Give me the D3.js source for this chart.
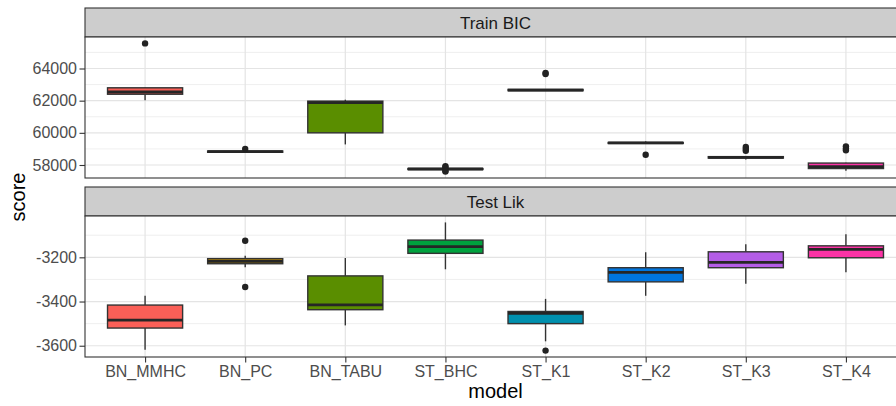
<!DOCTYPE html>
<html>
<head>
<meta charset="utf-8">
<script src="https://cdn.jsdelivr.net/npm/d3@7"></script>
<style>
  html, body { margin: 0; padding: 0; background: #fff; }
  svg { display: block; font-family: "Liberation Sans", Arial, Helvetica, sans-serif; }
</style>
</head>
<body>
<svg id="chart" width="896" height="406"></svg>
<script>
// Models on the x axis
const models = ["BN_MMHC", "BN_PC", "BN_TABU", "ST_BHC", "ST_K1", "ST_K2", "ST_K3", "ST_K4"];
const fills = ["#FA5F57", "#B88700", "#5A8E00", "#00A23E", "#0090AE", "#0075DE", "#B45DE6", "#FC33A6"];

// Facet titles
const facets = ["Train BIC", "Test Lik"];

// Box statistics per model: [lower whisker, Q1, median, Q3, upper whisker]
const trainBicStats = [
  [62020, 62400, 62540, 62800, 62820],
  [58760, 58790, 58830, 58870, 58900],
  [59280, 60000, 61880, 61970, 62060],
  [57700, 57720, 57750, 57780, 57800],
  [62600, 62620, 62660, 62700, 62720],
  [59330, 59340, 59370, 59400, 59470],
  [58340, 58430, 58470, 58520, 58560],
  [57650, 57780, 57900, 58120, 58140]
];
const trainBicOutliers = [
  [65560],
  [59000],
  [],
  [57920, 57860, 57640, 57590],
  [63720, 63660],
  [58640],
  [59120, 58990, 58880],
  [59160, 59020, 58920]
];
const testLikStats = [
  [-3618, -3520, -3484, -3416, -3374],
  [-3245, -3229, -3218, -3206, -3193],
  [-3508, -3437, -3415, -3284, -3203],
  [-3254, -3182, -3152, -3122, -3042],
  [-3580, -3500, -3453, -3445, -3388],
  [-3374, -3311, -3268, -3247, -3177],
  [-3320, -3247, -3223, -3175, -3141],
  [-3268, -3202, -3164, -3148, -3096]
];
const testLikOutliers = [
  [], [-3125, -3334], [], [], [-3622], [], [], []
];

// Tick values per facet
const trainBicTicks = [58000, 60000, 62000, 64000];
const testLikTicks = [-3600, -3400, -3200];

const svg = d3.select("#chart");

// Layout
const panelLeft = 85, panelRight = 906;
const stripH = 29;
const panels = [
  { title: facets[0], stats: trainBicStats, outliers: trainBicOutliers, ticks: trainBicTicks, top: 37, bottom: 178 },
  { title: facets[1], stats: testLikStats, outliers: testLikOutliers, ticks: testLikTicks, top: 216, bottom: 357 }
];

const x = d3.scalePoint().domain(models).range([panelLeft, panelRight]).padding(0.6);
const boxW = x.step() * 0.75;

panels.forEach(p => {
  const all = [];
  p.stats.forEach(s => all.push(s[0], s[4]));
  p.outliers.forEach(o => all.push(...o));
  const [lo, hi] = d3.extent(all);
  const pad = (hi - lo) * 0.05;
  const y = d3.scaleLinear().domain([lo - pad, hi + pad]).range([p.bottom, p.top]);

  const g = svg.append("g");

  // clip for panel content
  const clipId = "clip" + p.top;
  svg.append("clipPath").attr("id", clipId)
    .append("rect").attr("x", panelLeft).attr("y", p.top)
    .attr("width", panelRight - panelLeft).attr("height", p.bottom - p.top);

  // strip
  g.append("rect")
    .attr("x", panelLeft).attr("y", p.top - stripH)
    .attr("width", panelRight - panelLeft).attr("height", stripH)
    .attr("fill", "#CDCDCD").attr("stroke", "#333").attr("stroke-width", 1.1);
  g.append("text")
    .attr("x", (panelLeft + 896 + 10) / 2).attr("y", p.top - stripH / 2)
    .attr("dy", "0.36em").attr("text-anchor", "middle")
    .attr("font-size", 17).attr("fill", "#1A1A1A")
    .text(p.title);

  // panel background
  g.append("rect")
    .attr("x", panelLeft).attr("y", p.top)
    .attr("width", panelRight - panelLeft).attr("height", p.bottom - p.top)
    .attr("fill", "#fff");

  const grid = g.append("g").attr("clip-path", `url(#${clipId})`);
  // minor gridlines halfway between major ticks
  const step = p.ticks[1] - p.ticks[0];
  const minor = d3.range(p.ticks[0] - step * 3 - step / 2, p.ticks[p.ticks.length - 1] + step * 3, step)
    .filter(v => v >= y.domain()[0] && v <= y.domain()[1]);
  grid.selectAll(".minor").data(minor).join("line")
    .attr("x1", panelLeft).attr("x2", panelRight)
    .attr("y1", d => y(d)).attr("y2", d => y(d))
    .attr("stroke", "#EDEDED").attr("stroke-width", 0.9);
  grid.selectAll(".major").data(p.ticks).join("line")
    .attr("x1", panelLeft).attr("x2", panelRight)
    .attr("y1", d => y(d)).attr("y2", d => y(d))
    .attr("stroke", "#E4E4E4").attr("stroke-width", 1.2);
  grid.selectAll(".vmajor").data(models).join("line")
    .attr("x1", d => x(d)).attr("x2", d => x(d))
    .attr("y1", p.top).attr("y2", p.bottom)
    .attr("stroke", "#E4E4E4").attr("stroke-width", 1.2);

  // boxplots
  const boxes = g.append("g").attr("clip-path", `url(#${clipId})`);
  models.forEach((m, i) => {
    const s = p.stats[i];
    const cx = x(m);
    const bg = boxes.append("g");
    bg.append("line").attr("x1", cx).attr("x2", cx)
      .attr("y1", y(s[4])).attr("y2", y(s[3]))
      .attr("stroke", "#333").attr("stroke-width", 1.4);
    bg.append("line").attr("x1", cx).attr("x2", cx)
      .attr("y1", y(s[1])).attr("y2", y(s[0]))
      .attr("stroke", "#333").attr("stroke-width", 1.4);
    bg.append("rect")
      .attr("x", cx - boxW / 2).attr("width", boxW)
      .attr("y", y(s[3])).attr("height", Math.max(0, y(s[1]) - y(s[3])))
      .attr("fill", fills[i]).attr("stroke", "#333").attr("stroke-width", 1.4);
    bg.append("line")
      .attr("x1", cx - boxW / 2).attr("x2", cx + boxW / 2)
      .attr("y1", y(s[2])).attr("y2", y(s[2]))
      .attr("stroke", "#262626").attr("stroke-width", 2.8);
    bg.selectAll("circle").data(p.outliers[i]).join("circle")
      .attr("cx", cx).attr("cy", d => y(d)).attr("r", 3.2)
      .attr("fill", "#222");
  });

  // panel border
  g.append("rect")
    .attr("x", panelLeft).attr("y", p.top)
    .attr("width", panelRight - panelLeft).attr("height", p.bottom - p.top)
    .attr("fill", "none").attr("stroke", "#333").attr("stroke-width", 1.1);

  // y axis
  const ya = g.append("g").attr("transform", `translate(${panelLeft},0)`)
    .call(d3.axisLeft(y).tickValues(p.ticks).tickFormat(d => String(d)).tickSize(5.5).tickPadding(2.5));
  ya.select(".domain").remove();
  ya.selectAll(".tick line").attr("stroke", "#333").attr("stroke-width", 1.1);
  ya.selectAll(".tick text").attr("fill", "#4D4D4D").attr("font-size", 16)
    .attr("font-family", "'Liberation Sans', Arial, sans-serif");
});

// x axis under the lower panel
const xa = svg.append("g").attr("transform", `translate(0,${panels[1].bottom})`)
  .call(d3.axisBottom(x).tickSize(5.5).tickPadding(3));
xa.select(".domain").remove();
xa.selectAll(".tick line").attr("stroke", "#333").attr("stroke-width", 1.1);
xa.selectAll(".tick text").attr("fill", "#4D4D4D").attr("font-size", 16)
  .attr("font-family", "'Liberation Sans', Arial, sans-serif");

// axis titles
svg.append("text")
  .attr("x", (panelLeft + 906) / 2).attr("y", 398)
  .attr("text-anchor", "middle").attr("font-size", 20).attr("fill", "#000")
  .text("model");
svg.append("text")
  .attr("transform", "translate(25,197) rotate(-90)")
  .attr("text-anchor", "middle").attr("font-size", 20).attr("fill", "#000")
  .text("score");
</script>
</body>
</html>
